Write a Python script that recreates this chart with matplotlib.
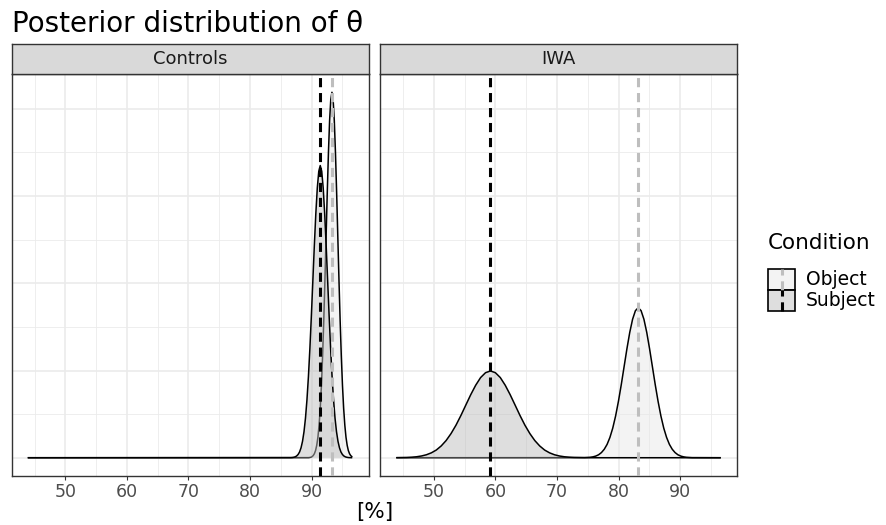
import matplotlib
matplotlib.use("Agg")
import matplotlib.pyplot as plt
from matplotlib.patches import Rectangle
from matplotlib.lines import Line2D
from matplotlib.colors import to_rgba

plt.rcParams['font.family'] = ['DejaVu Sans']

W, H = 886, 525

# ---------------- data ----------------
groups = ["Controls", "IWA"]
conditions = ["Object", "Subject"]

ctrl_object_x = [43.9, 89.5, 89.69, 89.88, 90.07, 90.26, 90.45, 90.64, 90.83, 91.02, 91.21,
                 91.4, 91.59, 91.78, 91.97, 92.16, 92.35, 92.54, 92.73, 92.92, 93.11, 93.3,
                 93.49, 93.68, 93.87, 94.06, 94.25, 94.44, 94.63, 94.82, 95.01, 95.2, 95.39,
                 95.58, 95.77, 95.96, 96.15, 96.34, 96.53, 96.6]
ctrl_object_y = [0, .0001, .0003, .0006, .0013, .0025, .0047, .0083, .0143, .0235, .0373,
                 .0567, .0829, .1165, .1573, .2039, .2541, .3043, .3500, .3868, .4107, .419,
                 .4107, .3868, .3500, .3043, .2541, .2039, .1573, .1165, .0829, .0567, .0373,
                 .0235, .0143, .0083, .0047, .0025, .0013, .0008]

ctrl_subject_x = [43.9, 86.6, 86.84, 87.08, 87.32, 87.56, 87.8, 88.04, 88.28, 88.52, 88.76,
                  89.0, 89.24, 89.48, 89.72, 89.96, 90.2, 90.44, 90.68, 90.92, 91.16, 91.4,
                  91.64, 91.88, 92.12, 92.36, 92.6, 92.84, 93.08, 93.32, 93.56, 93.8, 94.04,
                  94.28, 94.52, 94.76, 95.0, 95.24, 95.48, 95.72, 95.96, 96.2, 96.6]
ctrl_subject_y = [0, .0001, .0002, .0005, .0010, .0020, .0037, .0066, .0114, .0188, .0298,
                  .0453, .0663, .0931, .1257, .1631, .2032, .2433, .2798, .3092, .3284, .335,
                  .3284, .3092, .2798, .2433, .2032, .1631, .1257, .0931, .0663, .0453, .0298,
                  .0188, .0114, .0066, .0037, .0020, .0010, .0005, .0002, .0001, 0]

iwa_object_x = [43.9, 74.0, 74.46, 74.92, 75.38, 75.84, 76.3, 76.76, 77.22, 77.68, 78.14,
                78.6, 79.06, 79.52, 79.98, 80.44, 80.9, 81.36, 81.82, 82.28, 82.74, 83.2,
                83.66, 84.12, 84.58, 85.04, 85.5, 85.96, 86.42, 86.88, 87.34, 87.8, 88.26,
                88.72, 89.18, 89.64, 90.1, 90.56, 91.02, 91.48, 91.94, 92.4, 96.6]
iwa_object_y = [0, .0001, .0001, .0003, .0005, .0010, .0019, .0034, .0059, .0097, .0153,
                .0233, .0340, .0478, .0646, .0837, .1043, .1249, .1437, .1588, .1686, .172,
                .1686, .1588, .1437, .1249, .1043, .0837, .0646, .0478, .0340, .0233, .0153,
                .0097, .0059, .0034, .0019, .0010, .0005, .0003, .0001, .0001, 0]

iwa_subject_x = [43.9, 44.0, 44.8, 45.6, 46.4, 47.2, 48.0, 48.8, 49.6, 50.4, 51.2, 52.0,
                 52.8, 53.6, 54.4, 55.2, 56.0, 56.8, 57.6, 58.4, 59.2, 60.0, 60.8, 61.6,
                 62.4, 63.2, 64.0, 64.8, 65.6, 66.4, 67.2, 68.0, 68.8, 69.6, 70.4, 71.2,
                 72.0, 72.8, 73.6, 74.4, 75.2, 96.6]
iwa_subject_y = [0, .0001, .0002, .0003, .0006, .0011, .0020, .0034, .0056, .0088, .0135,
                 .0197, .0277, .0373, .0484, .0604, .0723, .0831, .0919, .0975, .0995,
                 .0975, .0919, .0831, .0723, .0604, .0484, .0373, .0277, .0197, .0135,
                 .0088, .0056, .0034, .0020, .0011, .0006, .0003, .0002, .0001, 0, 0]

# posterior means (vertical dashed lines), order: Object, Subject
ctrl_means = [93.3, 91.4]
iwa_means = [83.2, 59.2]

x_ticks = [50, 60, 70, 80, 90]
x_tick_labels = ["50", "60", "70", "80", "90"]

# ---------------- styling ----------------
fill_cols = {"Object": "#e8e8e8", "Subject": "#bebebe"}
vline_cols = {"Object": "#bebebe", "Subject": "#000000"}
DASH = (0, (3.0, 1.9))

curves = {
    "Controls": {"Object": (ctrl_object_x, ctrl_object_y),
                 "Subject": (ctrl_subject_x, ctrl_subject_y)},
    "IWA": {"Object": (iwa_object_x, iwa_object_y),
            "Subject": (iwa_subject_x, iwa_subject_y)},
}
means = {"Controls": dict(zip(conditions, ctrl_means)),
         "IWA": dict(zip(conditions, iwa_means))}

fig = plt.figure(figsize=(W / 100, H / 100), dpi=100)
fig.patch.set_facecolor("white")


def px_box(l, t, r, b):
    return [l / W, 1 - b / H, (r - l) / W, (b - t) / H]


def fx(x):
    return x / W


def fy(y):
    return 1 - y / H


panels = [(11.5, 368.5), (380, 737)]
ptop, pbot = 74, 476

all_x = [v for g in groups for c in conditions for v in curves[g][c][0]]
all_y = [v for g in groups for c in conditions for v in curves[g][c][1]]
xmin, xmax = min(all_x), max(all_x)
ymin, ymax = 0.0, max(all_y)
xpad = 0.05 * (xmax - xmin)
ypad = 0.05 * (ymax - ymin)

for (l, r), g in zip(panels, groups):
    ax = fig.add_axes(px_box(l, ptop, r, pbot))
    ax.set_facecolor("white")
    z = 2.0
    for c in conditions:
        x, y = curves[g][c]
        ax.fill_between(x, y, 0, facecolor=to_rgba(fill_cols[c], 0.5), lw=0, zorder=z)
        ax.plot(x, y, color="black", lw=1.1, zorder=z + 0.1, solid_capstyle="butt")
        z += 0.2
    for c in conditions:
        ax.axvline(means[g][c], color=vline_cols[c], lw=2.2, ls=DASH, zorder=4)
    ax.set_xlim(xmin - xpad, xmax + xpad)
    ax.set_ylim(ymin - ypad, ymax + ypad)
    ax.set_xticks(x_ticks)
    ax.set_xticklabels(x_tick_labels)
    ax.set_xticks([45, 55, 65, 75, 85, 95], minor=True)
    ax.set_yticks([0, 0.1, 0.2, 0.3, 0.4])
    ax.set_yticks([0.05, 0.15, 0.25, 0.35], minor=True)
    ax.set_yticklabels([])
    ax.grid(which="major", color="#ebebeb", lw=1.2)
    ax.grid(which="minor", color="#ebebeb", lw=0.6)
    ax.set_axisbelow(True)
    ax.tick_params(axis="x", which="major", length=3, width=0.8, color="#333333",
                   labelsize=12.5, labelcolor="#4d4d4d", pad=2)
    ax.tick_params(axis="x", which="minor", length=0)
    ax.tick_params(axis="y", which="both", length=0)
    for s in ax.spines.values():
        s.set_color("#333333")
        s.set_linewidth(1.0)
    # strip
    sax = fig.add_axes(px_box(l, 44, r, ptop))
    sax.set_facecolor("#d9d9d9")
    sax.set_xticks([])
    sax.set_yticks([])
    for s in sax.spines.values():
        s.set_color("#333333")
        s.set_linewidth(1.0)
    sax.text(0.5, 0.5, g, ha="center", va="center", fontsize=13, color="#1a1a1a",
             transform=sax.transAxes)

# title and axis title
fig.text(fx(12), fy(31.5), "Posterior distribution of θ", fontsize=20, color="black",
         ha="left", va="baseline")
fig.text(fx((11.5 + 737) / 2), fy(512), "[%]", fontsize=15.5, color="black",
         ha="center", va="center")

# legend
fig.text(fx(768), fy(243), "Condition", fontsize=15.5, color="black", ha="left", va="center")
key_l, key_r = 768, 795
key_tops = [269, 290]
key_h = 21
for c, kt in zip(conditions, key_tops):
    fig.add_artist(Rectangle((fx(key_l), fy(kt + key_h)), fx(key_r) - fx(key_l),
                             fy(kt) - fy(kt + key_h), transform=fig.transFigure,
                             facecolor=to_rgba(fill_cols[c], 0.5), edgecolor="black", lw=1.2))
    cx = fx((key_l + key_r) / 2)
    fig.add_artist(Line2D([cx, cx], [fy(kt + key_h), fy(kt)], transform=fig.transFigure,
                          color=vline_cols[c], lw=2.2, ls=DASH))
    fig.text(fx(806), fy(kt + key_h / 2), c, fontsize=13.5, color="black",
             ha="left", va="center")

fig.savefig("out.png", dpi=100, facecolor="white")
